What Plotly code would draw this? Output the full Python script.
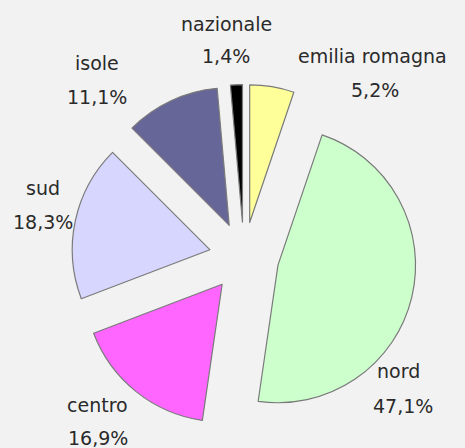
import plotly.graph_objects as go

# Data
categories = ["emilia romagna", "nord", "centro", "sud", "isole", "nazionale"]
shares = [5.2, 47.1, 16.9, 18.3, 11.1, 1.4]

# Styles
colors = ["#FFFF99", "#CCFFCC", "#FF66FF", "#D6D6FF", "#666699", "#000000"]
W, H = 465, 448
FONT = "Century Gothic, DejaVu Sans, sans-serif"

# pie geometry (pixels)
cx, cy, half = 244, 257, 172.5
pull = 0.254

fig = go.Figure(go.Pie(
    labels=categories,
    values=shares,
    sort=False,
    direction="clockwise",
    rotation=0,
    pull=[pull] * len(shares),
    marker=dict(colors=colors, line=dict(color="#7a7a7a", width=1.2)),
    textinfo="none",
    hoverinfo="label+percent",
    domain=dict(x=[(cx - half) / W, (cx + half) / W],
                y=[1 - (cy + half) / H, 1 - (cy - half) / H]),
    showlegend=False,
))

# label placement (pixel centres of the name line and of the percent line)
label_pos = {
    "emilia romagna": ((372, 56), (375, 90)),
    "nord": ((398, 371), (403, 406)),
    "centro": ((97, 405), (98, 438)),
    "sud": ((43, 188), (43, 222)),
    "isole": ((97, 63), (97, 97)),
    "nazionale": ((226, 24), (226, 56)),
}

annotations = []
for name, val in zip(categories, shares):
    (nx, ny), (px, py) = label_pos[name]
    pct = f"{val:.1f}%".replace(".", ",")
    for txt, x, y in ((name, nx, ny), (pct, px, py)):
        annotations.append(dict(
            text=txt, x=x / W, y=1 - y / H, xref="paper", yref="paper",
            xanchor="center", yanchor="middle", showarrow=False,
            font=dict(family=FONT, size=19, color="#2a2a2a"),
        ))

fig.update_layout(
    width=W, height=H,
    margin=dict(l=0, r=0, t=0, b=0),
    paper_bgcolor="#F2F2F2",
    plot_bgcolor="#F2F2F2",
    annotations=annotations,
)

fig.write_html(
    "out.html",
    config={"displayModeBar": False},
    post_script="document.body.style.margin='0';document.body.style.overflow='hidden';",
)
